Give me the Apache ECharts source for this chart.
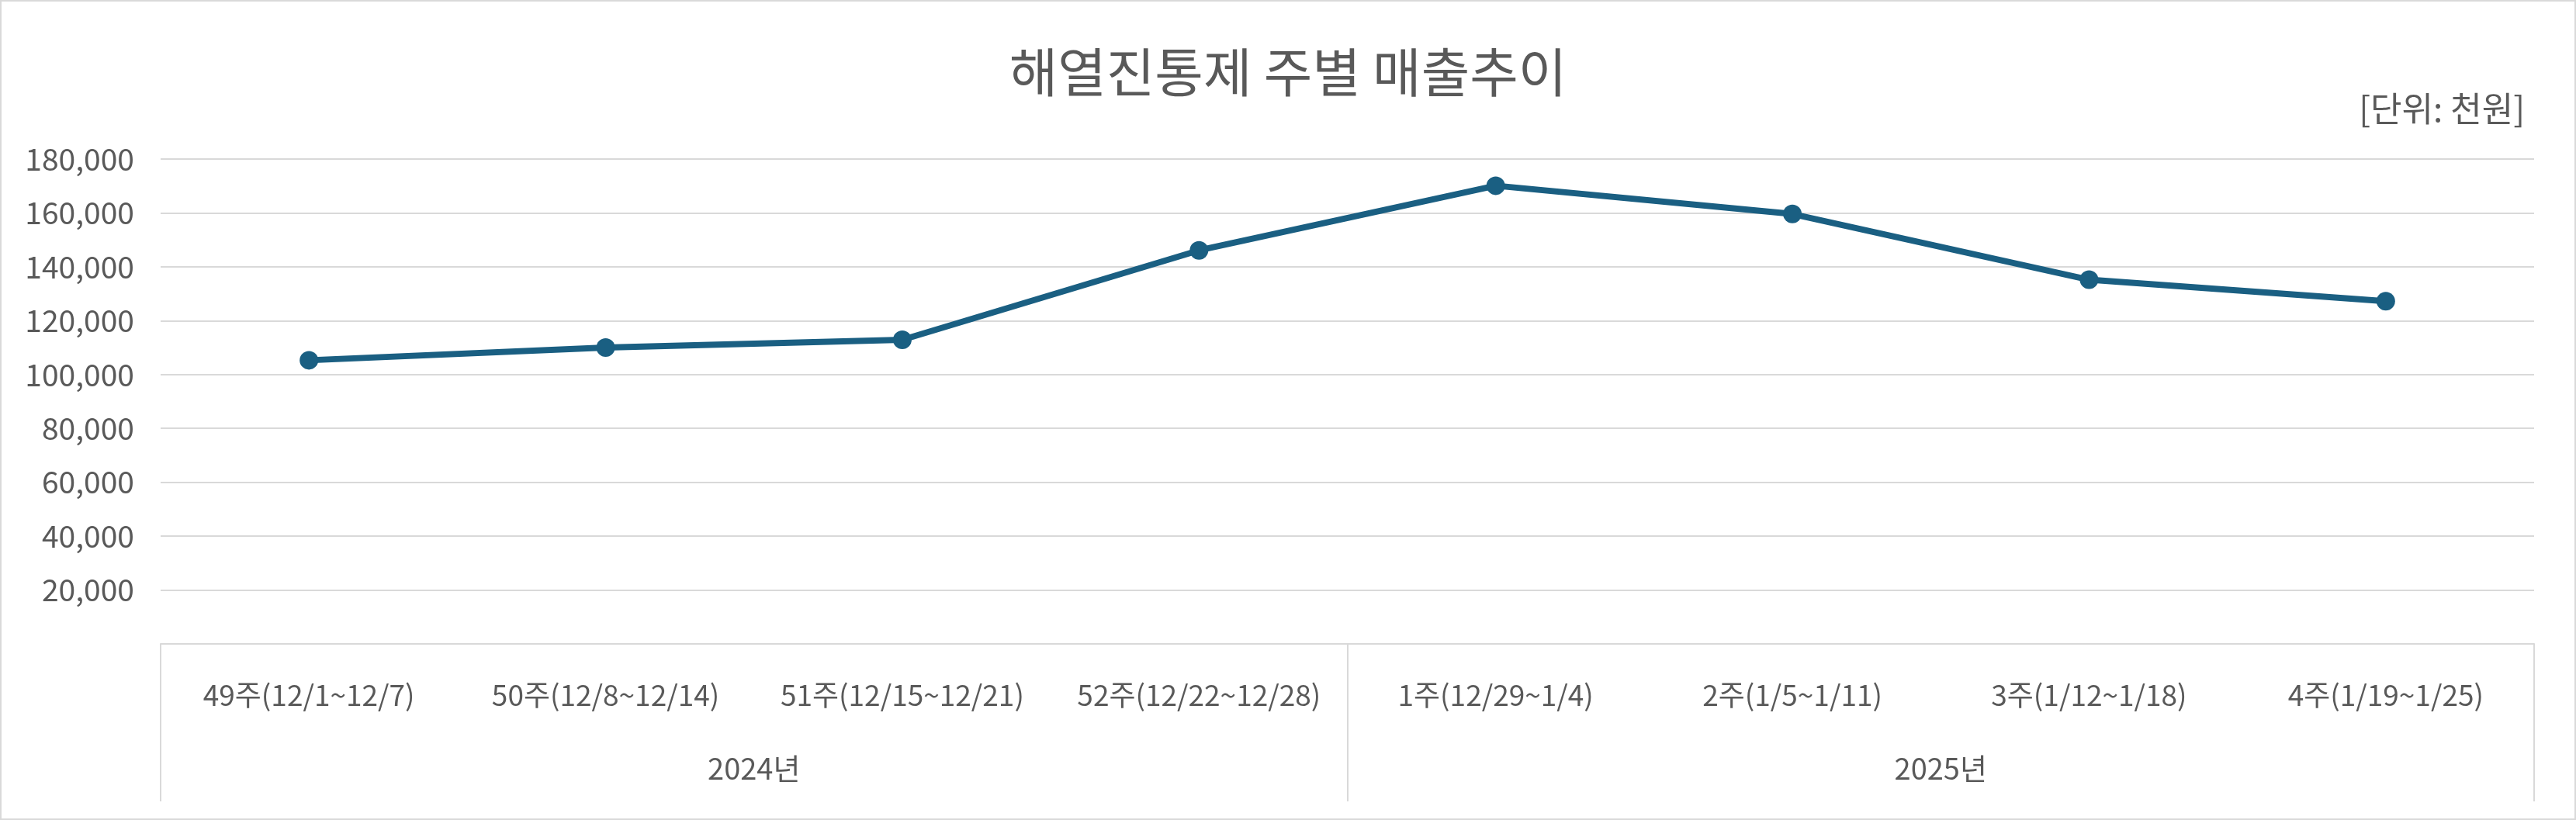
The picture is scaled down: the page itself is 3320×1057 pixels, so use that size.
<!DOCTYPE html>
<html>
<head>
<meta charset="utf-8">
<script src="https://cdn.jsdelivr.net/npm/echarts@6/dist/echarts.min.js"></script>
<style>
html,body{margin:0;padding:0;background:#fff;}
#c{width:3320px;height:1057px;box-sizing:border-box;border:2px solid #d9d9d9;}
</style>
</head>
<body>
<div id="c"></div>
<script>
const titleText = '해열진통제 주별 매출추이';
const unitText = '[단위: 천원]';
const weeks = ['49주(12/1~12/7)','50주(12/8~12/14)','51주(12/15~12/21)','52주(12/22~12/28)','1주(12/29~1/4)','2주(1/5~1/11)','3주(1/12~1/18)','4주(1/19~1/25)'];
const years = ['2024년','2025년'];
const sales = [105300,110000,112900,146100,170100,159600,135200,127200];

const FONT = '"Noto Sans CJK KR", "Noto Sans", sans-serif';
const TXT = '#595959';
const GRID = '#d9d9d9';

const chart = echarts.init(document.getElementById('c'), null, {renderer:'canvas'});
chart.setOption({
  backgroundColor:'#fff',
  animation:false,
  title:{
    text:titleText, left:'center', top:52,
    textStyle:{fontFamily:FONT, fontSize:68, fontWeight:'normal', color:TXT}
  },
  graphic:[{
    type:'text', right:64, top:116,
    style:{text:unitText, font:'44px ' + FONT, fill:TXT}
  }],
  grid:{left:205, right:52, top:203, bottom:225, containLabel:false},
  xAxis:[{
    type:'category', data:weeks, position:'bottom',
    axisLine:{show:true, lineStyle:{color:GRID, width:2}},
    axisTick:{show:false},
    axisLabel:{margin:47, fontFamily:FONT, fontSize:37, color:TXT, interval:0}
  },{
    type:'category', data:years, position:'bottom', offset:203,
    axisLine:{show:false},
    axisTick:{show:true, inside:true, length:203, lineStyle:{color:GRID, width:2}},
    axisLabel:{inside:true, margin:23, fontFamily:FONT, fontSize:38, color:TXT}
  }],
  yAxis:{
    type:'value', min:0, max:180000, interval:20000,
    axisLine:{show:false}, axisTick:{show:false},
    splitLine:{lineStyle:{color:GRID, width:2}},
    axisLabel:{margin:34, fontFamily:FONT, fontSize:39, color:TXT,
      formatter:v => v === 0 ? '' : v.toLocaleString('en-US')}
  },
  series:[{
    type:'line', data:sales, xAxisIndex:0,
    symbol:'circle', symbolSize:24,
    lineStyle:{color:'#1a5f82', width:8},
    itemStyle:{color:'#1a5f82'}
  }]
});
</script>
</body>
</html>
